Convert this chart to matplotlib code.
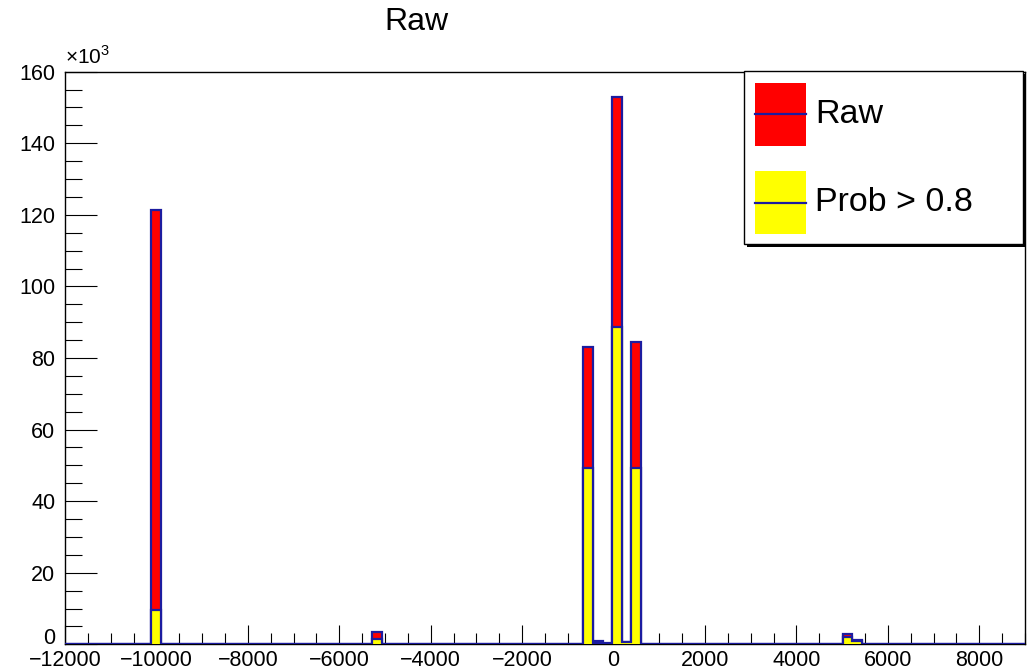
import numpy as np
import matplotlib
matplotlib.use('agg')
import matplotlib.pyplot as plt
import matplotlib.ticker as tick
from matplotlib.patches import Rectangle
from matplotlib.lines import Line2D

plt.rcParams['font.family'] = ['Liberation Sans', 'DejaVu Sans']
plt.rcParams['mathtext.fontset'] = 'custom'
plt.rcParams['mathtext.rm'] = 'Liberation Sans'

# histogram binning: 100 bins from -12000 to 9000
x_min, x_max, n_bins = -12000, 9000, 100

# centres of the filled bins and their contents
bin_centers = [-10005, -5175, -555, -345, -135, 75, 285, 495, 5115, 5325]
raw_counts = [121300, 3300, 83200, 800, 300, 152800, 700, 84400, 2900, 1200]
prob_counts = [9600, 1500, 49200, 500, 100, 88700, 600, 49200, 2000, 800]

title_text = 'Raw'
legend_labels = ['Raw', 'Prob > 0.8']

line_col = '#1c1ca0'
W, H = 1035, 669


def px(x, y):
    # pixel position -> figure fraction
    return x / W, 1 - y / H


def fill_bins(edges, centers, counts):
    vals = np.zeros(len(edges) - 1)
    for c, v in zip(centers, counts):
        i = np.searchsorted(edges, c) - 1
        vals[i] = v
    return vals


edges = np.linspace(x_min, x_max, n_bins + 1)
raw_vals = fill_bins(edges, bin_centers, raw_counts)
prob_vals = fill_bins(edges, bin_centers, prob_counts)

fig = plt.figure(figsize=(W / 100, H / 100), dpi=100)
l, b = px(65, 644.3)
r, t = px(1025, 71.7)
ax = fig.add_axes([l, b, r - l, t - b])

ax.stairs(raw_vals, edges, fill=True, color='#ff0000', baseline=0, zorder=2)
ax.stairs(raw_vals, edges, fill=False, color=line_col, lw=1.6, baseline=0, zorder=3)
ax.stairs(prob_vals, edges, fill=True, color='#ffff00', baseline=0, zorder=4)
ax.stairs(prob_vals, edges, fill=False, color=line_col, lw=1.6, baseline=0, zorder=5)

ax.set_xlim(x_min, x_max)
ax.set_ylim(0, 160000)

ax.xaxis.set_major_locator(tick.MultipleLocator(2000))
ax.xaxis.set_minor_locator(tick.MultipleLocator(500))
ax.yaxis.set_major_locator(tick.MultipleLocator(20000))
ax.yaxis.set_minor_locator(tick.MultipleLocator(5000))
ax.yaxis.set_major_formatter(tick.FuncFormatter(lambda v, p: '%d' % round(v / 1000)))

ax.tick_params(axis='x', which='major', direction='in', length=14, width=0.8,
               labelsize=15.5, pad=4, top=False)
ax.tick_params(axis='x', which='minor', direction='in', length=8, width=0.8, top=False)
ax.tick_params(axis='y', which='major', direction='in', length=23, width=0.8,
               labelsize=15.5, pad=7, right=False)
ax.tick_params(axis='y', which='minor', direction='in', length=12, width=0.8, right=False)
for s in ax.spines.values():
    s.set_linewidth(1.0)
    s.set_color('black')

# lift the y "0" label a little, as in the original
fig.canvas.draw()
for lab in ax.get_yticklabels():
    if lab.get_text() == '0':
        lab.set_va('baseline')

ax.text(0.0, 1.006, r'$\times10^{3}$', transform=ax.transAxes, fontsize=15,
        ha='left', va='bottom')

# title
tx, ty = px(416, 22)
fig.text(tx, ty, title_text, fontsize=23, ha='center', va='center')

# legend box (ROOT style, with shadow)
sx, sy = px(747, 247)
sx2, sy2 = px(1026, 74)
fig.add_artist(Rectangle((sx, sy), sx2 - sx, sy2 - sy, transform=fig.transFigure,
                         facecolor='black', edgecolor='black', lw=0, zorder=10))
bx, by = px(744, 244)
bx2, by2 = px(1023, 71)
fig.add_artist(Rectangle((bx, by), bx2 - bx, by2 - by, transform=fig.transFigure,
                         facecolor='white', edgecolor='black', lw=1.0, zorder=11))

patch_cols = ['#ff0000', '#ffff00']
patch_tops = [82.7, 171]
patch_bots = [145.7, 234]
for lab, col, ptop, pbot in zip(legend_labels, patch_cols, patch_tops, patch_bots):
    x0, y0 = px(755, pbot)
    x1, y1 = px(805.7, ptop)
    fig.add_artist(Rectangle((x0, y0), x1 - x0, y1 - y0, transform=fig.transFigure,
                             facecolor=col, edgecolor='none', zorder=12))
    ym = (y0 + y1) / 2
    fig.add_artist(Line2D([x0, x1], [ym, ym], transform=fig.transFigure,
                          color=line_col, lw=1.6, zorder=13))
    fig.text(px(815, 0)[0], ym, lab, fontsize=24.5, ha='left', va='center', zorder=14)

fig.savefig('out.png', dpi=100)
